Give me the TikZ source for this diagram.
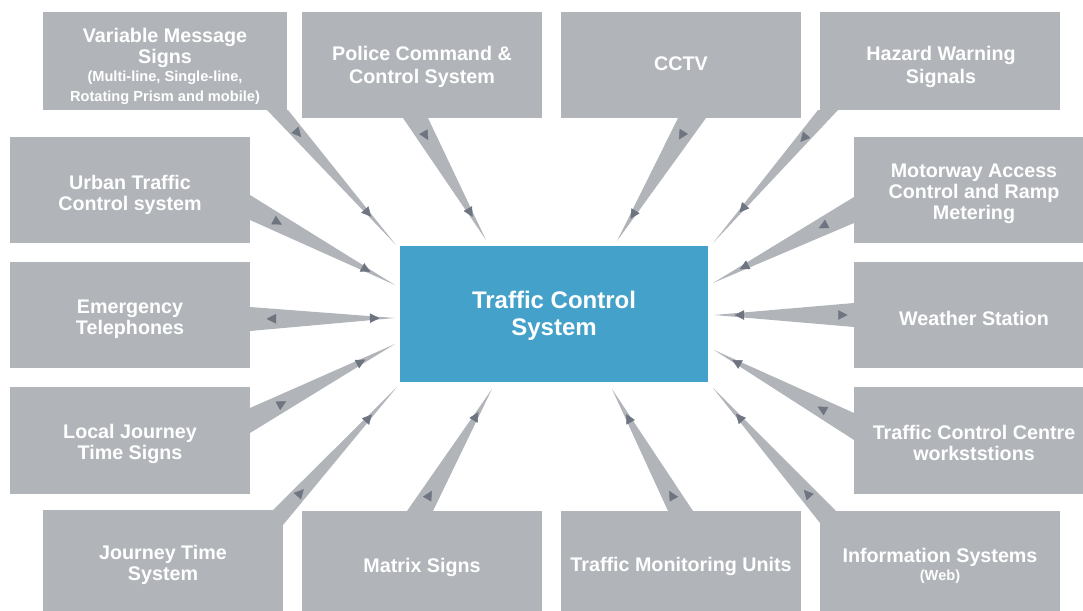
\documentclass[tikz,border=0pt]{standalone}
\usepackage{fontspec}
\setmainfont{Liberation Sans}
\usetikzlibrary{arrows.meta,decorations.markings,calc}
\definecolor{boxgray}{HTML}{B1B5B9}
\definecolor{arrgray}{HTML}{6E7581}
\definecolor{tcblue}{HTML}{43A1CA}
\tikzset{
  tctip/.tip={Triangle[length=9.5pt,width=9.5pt,color=arrgray]},
  box/.style={fill=boxgray, inner sep=0pt, minimum width=240pt, minimum height=106pt},
  txt/.style={text=white, font=\bfseries\fontsize{19.7}{21}\selectfont, align=center, inner sep=0pt},
  txtwide/.style={txt, font=\bfseries\fontsize{19.7}{23}\selectfont},
  txtsmall/.style={txt, font=\bfseries\fontsize{14.6}{20}\selectfont},
  txtbig/.style={txt, font=\bfseries\fontsize{24}{27}\selectfont},
}
% #1 name, #2 base point 1, #3 base point 2, #4 tip, #5 outer mark position,
% #6 outer mark command (arrow / arrowreversed), #7 inner mark position
\newcommand\tcconn[7]{%
  \coordinate (#1-a) at #2;
  \coordinate (#1-b) at #3;
  \coordinate (#1-t) at #4;
  \coordinate (#1-m) at ($(#1-a)!.5!(#1-b)$);
  \fill[boxgray] (#1-a) -- (#1-t) -- (#1-b) -- cycle;
  \path[decorate,decoration={markings,
     mark=at position #5 with {\csname #6\endcsname{tctip}},
     mark=at position #7 with {\arrow{tctip}}}] (#1-m) -- (#1-t);
}
\begin{document}
\begin{tikzpicture}[x=1pt,y=-1pt]
\useasboundingbox (0,0) rectangle (1083,610);
\clip (0,0) rectangle (1083,610);

% boxes
\node[box, minimum width=244pt, minimum height=98pt] (vms) at (165,61) {};
\node[box] (police) at (422,65) {};
\node[box] (cctv) at (681,65) {};
\node[box, minimum height=98pt] (hazard) at (940,61) {};
\node[box] (urban) at (130,190) {};
\node[box] (emergency) at (130,315) {};
\node[box, minimum height=107pt] (local) at (130,440) {};
\node[box, minimum height=108pt] (jts) at (163,564) {};
\node[box, minimum height=107pt] (matrix) at (422,564.5) {};
\node[box, minimum height=107pt] (tm) at (681,564.5) {};
\node[box, minimum height=107pt] (info) at (940,564.5) {};
\node[box] (motorway) at (974,190) {};
\node[box] (weather) at (974,315) {};
\node[box, minimum height=107pt] (tcc) at (974,440) {};
\node[fill=tcblue, inner sep=0pt, minimum width=308pt, minimum height=136pt] (tcs) at (554,314) {};

% connectors (tapered wedges with arrow marks)
\tcconn{c-vms}{(267,110)}{(288,110)}{(396,245)}{0.20}{arrow}{0.79}
\tcconn{c-police}{(403,118)}{(428,118)}{(486,240)}{0.18}{arrow}{0.81}
\tcconn{c-cctv}{(678,118)}{(706,118)}{(617,241)}{0.175}{arrow}{0.82}
\tcconn{c-hazard}{(818,110)}{(838,110)}{(713,243)}{0.24}{arrow}{0.77}
\tcconn{c-motorway}{(854,197)}{(854,223)}{(713,283)}{0.25}{arrow}{0.81}
\tcconn{c-weather}{(854,303)}{(854,327)}{(714,315)}{0.046}{arrowreversed}{0.853}
\tcconn{c-tcc}{(854,413)}{(854,440)}{(714,350)}{0.26}{arrow}{0.87}
\tcconn{c-info}{(820,523)}{(836,511)}{(713,388)}{0.21}{arrow}{0.80}
\tcconn{c-tm}{(668,511)}{(693,511)}{(612,389)}{0.165}{arrow}{0.795}
\tcconn{c-matrix}{(407,511)}{(433,511)}{(492,389)}{0.165}{arrow}{0.81}
\tcconn{c-jts}{(272,511)}{(283,525)}{(397,387)}{0.22}{arrow}{0.79}
\tcconn{c-local}{(250,408)}{(250,433)}{(395,344)}{0.25}{arrow}{0.795}
\tcconn{c-emergency}{(250,307)}{(250,331)}{(395,318)}{0.114}{arrowreversed}{0.893}
\tcconn{c-urban}{(250,195)}{(250,220)}{(395,285)}{0.22}{arrow}{0.83}

% texts
\node[txt] (vms-t1) at (165,48) {Variable Message\\Signs};
\node[txtsmall] (vms-t2) at (165,88) {(Multi-line, Single-line,\\Rotating Prism and mobile)};
\node[txtwide] (police-t) at (422,67) {Police Command \&\\Control System};
\node[txt] (cctv-t) at (681,64) {CCTV};
\node[txtwide] (hazard-t) at (941,67) {Hazard Warning\\Signals};
\node[txt] (urban-t) at (130,195) {Urban Traffic\\Control system};
\node[txt] (emergency-t) at (130,319) {Emergency\\Telephones};
\node[txt] (local-t) at (130,444) {Local Journey\\Time Signs};
\node[txt] (jts-t) at (163,565) {Journey Time\\System};
\node[txt] (matrix-t) at (422,567) {Matrix Signs};
\node[txt] (tm-t) at (681,566) {Traffic Monitoring Units};
\node[txt] (info-t1) at (940,557) {Information Systems};
\node[txtsmall] (info-t2) at (940,577) {(Web)};
\node[txt] (motorway-t) at (974,194) {Motorway Access\\Control and Ramp\\Metering};
\node[txt] (weather-t) at (974,318) {Weather Station};
\node[txt] (tcc-t) at (974,443) {Traffic Control Centre\\workststions};
\node[txtbig] (tcs-t) at (554,316) {Traffic Control\\System};
\end{tikzpicture}
\end{document}
